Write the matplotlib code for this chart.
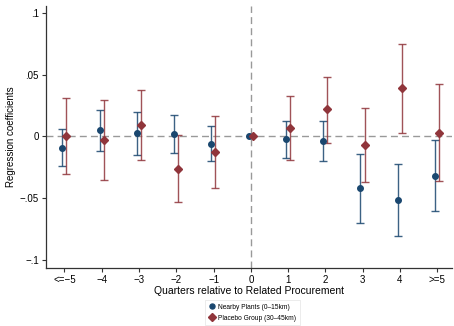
import matplotlib
matplotlib.use("Agg")
import matplotlib.pyplot as plt
import numpy as np

plt.rcParams["font.family"] = ["Liberation Sans", "DejaVu Sans"]

categories = ["<=\u22125", "\u22124", "\u22123", "\u22122", "\u22121", "0", "1", "2", "3", "4", ">=5"]

nearby_coef = [-0.0097, 0.0049, 0.0027, 0.0022, -0.0059, 0.0, -0.0024, -0.0038, -0.0420, -0.0516, -0.0319]
nearby_hi   = [0.0057, 0.0216, 0.0200, 0.0176, 0.0081, 0.0, 0.0124, 0.0124, -0.0140, -0.0221, -0.0030]
nearby_lo   = [-0.0240, -0.0120, -0.0148, -0.0132, -0.0200, 0.0, -0.0176, -0.0200, -0.0697, -0.0807, -0.0605]

placebo_coef = [0.0000, -0.0032, 0.0092, -0.0260, -0.0127, 0.0, 0.0067, 0.0219, -0.0070, 0.0389, 0.0030]
placebo_hi   = [0.0308, 0.0294, 0.0375, 0.0011, 0.0162, 0.0, 0.0324, 0.0483, 0.0229, 0.0751, 0.0421]
placebo_lo   = [-0.0308, -0.0356, -0.0189, -0.0530, -0.0420, 0.0, -0.0192, -0.0051, -0.0367, 0.0030, -0.0362]

ytick_vals = [-0.1, -0.05, 0, 0.05, 0.1]
ytick_labels = ["\u2212.1", "\u2212.05", "0", ".05", ".1"]

blue = "#1a476f"
red = "#90353b"

fig = plt.figure(figsize=(4.54, 3.26), dpi=100)
ax = fig.add_axes([0.101, 0.178, 0.895, 0.804])

x = np.arange(len(categories))
xb = x - 0.06
xr = x + 0.05

nc = np.array(nearby_coef); nh = np.array(nearby_hi); nl = np.array(nearby_lo)
pc = np.array(placebo_coef); ph = np.array(placebo_hi); pl = np.array(placebo_lo)

ax.axhline(0, color="#999999", lw=1.0, ls=(0, (5, 3)), zorder=1)
ax.axvline(5, color="#999999", lw=1.0, ls=(0, (5, 3)), zorder=1)

mask = nh != nl
ax.errorbar(xb[mask], nc[mask], yerr=[nc[mask] - nl[mask], nh[mask] - nc[mask]], fmt="none",
            ecolor=blue, elinewidth=1.0, capsize=3, capthick=1.0, alpha=0.85, zorder=2)
ax.errorbar(xr[mask], pc[mask], yerr=[pc[mask] - pl[mask], ph[mask] - pc[mask]], fmt="none",
            ecolor=red, elinewidth=1.0, capsize=3, capthick=1.0, alpha=0.85, zorder=2)
ax.plot(xb, nc, "o", color=blue, ms=4, zorder=3, label="Nearby Plants (0\u201315km)")
ax.plot(xr, pc, "D", color=red, ms=4, zorder=3, label="Placebo Group (30\u201345km)")

ax.set_xlim(-0.5, 10.4)
ax.set_ylim(-0.1065, 0.1057)
ax.set_xticks(x)
ax.set_xticklabels(categories, fontsize=7)
ax.set_yticks(ytick_vals)
ax.set_yticklabels(ytick_labels, fontsize=7)
ax.tick_params(axis="both", length=3, width=0.8, color="#333333", direction="out", pad=2)
for s in ["top", "right"]:
    ax.spines[s].set_visible(False)
for s in ["left", "bottom"]:
    ax.spines[s].set_color("#333333")
    ax.spines[s].set_linewidth(0.9)

ax.set_xlabel("Quarters relative to Related Procurement", fontsize=7.5, labelpad=1)
ax.set_ylabel("Regression coefficients", fontsize=7, labelpad=3)

leg = fig.legend(loc="center", bbox_to_anchor=(0.556, 0.041), fontsize=4.8, frameon=True,
                 fancybox=False, edgecolor="#dddddd", handletextpad=0.5, borderpad=0.5,
                 labelspacing=0.6, handlelength=1.0, markerscale=0.9)
leg.get_frame().set_linewidth(0.5)

fig.savefig("out.png", dpi=100)
